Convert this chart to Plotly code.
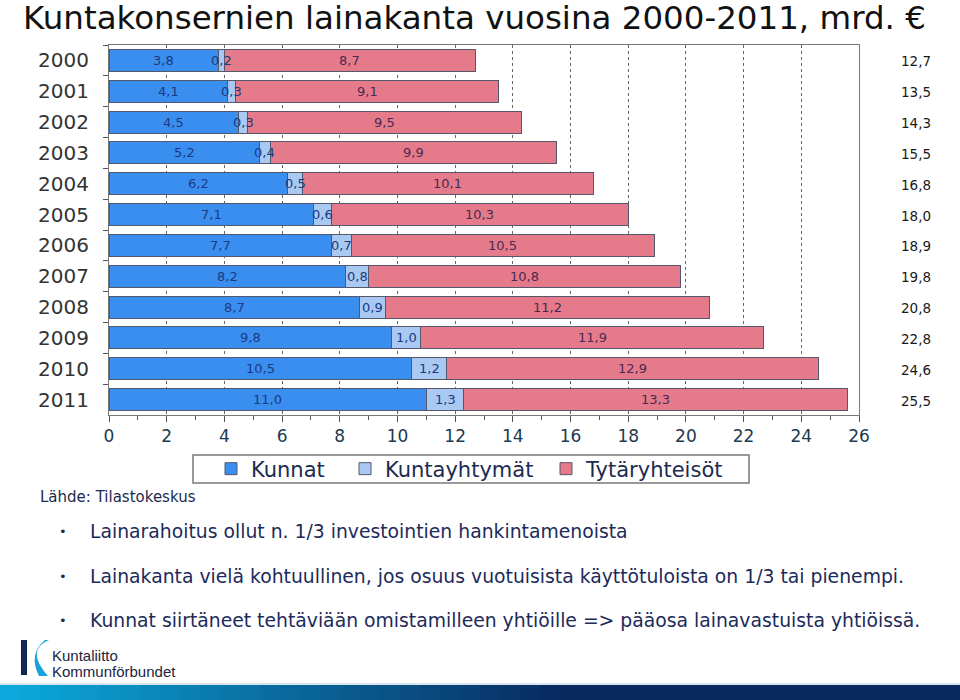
import plotly.graph_objects as go

years = ["2000", "2001", "2002", "2003", "2004", "2005", "2006", "2007", "2008", "2009", "2010", "2011"]
kunnat = [3.8, 4.1, 4.5, 5.2, 6.2, 7.1, 7.7, 8.2, 8.7, 9.8, 10.5, 11.0]
kuntayhtymat = [0.2, 0.3, 0.3, 0.4, 0.5, 0.6, 0.7, 0.8, 0.9, 1.0, 1.2, 1.3]
tytaryhteisot = [8.7, 9.1, 9.5, 9.9, 10.1, 10.3, 10.5, 10.8, 11.2, 11.9, 12.9, 13.3]
totals = [12.7, 13.5, 14.3, 15.5, 16.8, 18.0, 18.9, 19.8, 20.8, 22.8, 24.6, 25.5]
x_ticks = list(range(0, 27, 2))

series_names = ["Kunnat", "Kuntayhtymät", "Tytäryhteisöt"]
series_vals = [kunnat, kuntayhtymat, tytaryhteisot]
colors = ["#3a8ef0", "#a9c9f2", "#e57a8b"]
label_colors = ["#1b3a80", "#1b3a80", "#4a2a50"]

title = "Kuntakonsernien lainakanta vuosina 2000-2011, mrd. €"
source = "Lähde: Tilastokeskus"
bullets = [
    "Lainarahoitus ollut n. 1/3 investointien hankintamenoista",
    "Lainakanta vielä kohtuullinen, jos osuus vuotuisista käyttötuloista on 1/3 tai pienempi.",
    "Kunnat siirtäneet tehtäviään omistamilleen yhtiöille => pääosa lainavastuista yhtiöissä.",
]

# layout geometry (pixels)
W, H = 960, 700
L, R, T, B = 109, 101, 45, 285
PW, PH = W - L - R, H - T - B


def px(x):
    return (x - L) / PW


def py(y):
    return (H - B - y) / PH


legend_ids = ["legend", "legend2", "legend3"]
legend_left = [211, 345, 546]

fig = go.Figure()
for name, vals, c, lg in zip(series_names, series_vals, colors, legend_ids):
    fig.add_trace(go.Bar(
        y=years, x=vals, name=name, orientation="h", legend=lg,
        marker=dict(color=c, line=dict(color="#55586a", width=1)),
        hoverinfo="x+name",
    ))

annotations = []
# segment labels (y given as category index)
base = [0.0] * len(years)
for vals, lc in zip(series_vals, label_colors):
    for i, v in enumerate(vals):
        annotations.append(dict(
            x=base[i] + v / 2, y=i, xref="x", yref="y", xanchor="center",
            text=f"{v:.1f}".replace(".", ","), showarrow=False,
            font=dict(family="DejaVu Sans", size=13, color=lc),
        ))
        base[i] += v

# totals at right
for i, t in enumerate(totals):
    annotations.append(dict(
        x=px(916), y=i, xref="paper", yref="y", xanchor="center",
        text=f"{t:.1f}".replace(".", ","), showarrow=False, yshift=-1,
        font=dict(family="DejaVu Sans", size=13.5, color="#1a1a1a"),
    ))

annotations.append(dict(
    x=px(22), y=py(18.5), xref="paper", yref="paper", xanchor="left", yanchor="middle",
    text=title, showarrow=False, borderpad=0,
    font=dict(family="DejaVu Sans", size=32.5, color="#111111"),
))
annotations.append(dict(
    x=px(38), y=py(497), xref="paper", yref="paper", xanchor="left", yanchor="middle",
    text=source, showarrow=False,
    font=dict(family="DejaVu Sans", size=15, color="#1c2b50"),
))
for b, yy in zip(bullets, [531, 576, 620]):
    annotations.append(dict(
        x=px(57), y=py(yy), xref="paper", yref="paper", xanchor="left", yanchor="middle",
        text="•", showarrow=False,
        font=dict(family="DejaVu Sans", size=13, color="#1c2b5a"),
    ))
    annotations.append(dict(
        x=px(88), y=py(yy), xref="paper", yref="paper", xanchor="left", yanchor="middle",
        text=b, showarrow=False,
        font=dict(family="DejaVu Sans", size=18.8, color="#1c2b5a"),
    ))
# logo text
annotations.append(dict(
    x=px(50), y=py(655), xref="paper", yref="paper", xanchor="left", yanchor="middle",
    text="Kuntaliitto", showarrow=False,
    font=dict(family="Liberation Sans", size=15, color="#1a2540"),
))
annotations.append(dict(
    x=px(50), y=py(671), xref="paper", yref="paper", xanchor="left", yanchor="middle",
    text="Kommunförbundet", showarrow=False,
    font=dict(family="Liberation Sans", size=15, color="#1a2540"),
))

shapes = []
# legend frame
shapes.append(dict(type="rect", xref="paper", yref="paper",
                   x0=px(193), x1=px(749), y0=py(483), y1=py(455),
                   fillcolor="white", line=dict(color="#7a7a7a", width=1.5), layer="below"))
# gradient footer band
n = 48
c0 = (12, 170, 220)
c1 = (8, 42, 95)
for k in range(n):
    f = k / (n - 1)
    f2 = min(1.0, f * 1.7)
    col = tuple(int(c0[j] + (c1[j] - c0[j]) * f2) for j in range(3))
    shapes.append(dict(
        type="rect", xref="paper", yref="paper",
        x0=px(k * W / n), x1=px((k + 1) * W / n + 1), y0=py(700), y1=py(685),
        fillcolor="rgb(%d,%d,%d)" % col, line=dict(width=0), layer="above",
    ))
shapes.append(dict(type="rect", xref="paper", yref="paper",
                   x0=px(0), x1=px(960), y0=py(685), y1=py(683),
                   fillcolor="#d8e4ee", line=dict(width=0)))
# logo K
shapes.append(dict(type="rect", xref="paper", yref="paper",
                   x0=px(21), x1=px(27), y0=py(675), y1=py(640),
                   fillcolor="#0f2a55", line=dict(width=0)))
arc = "M {a},{b} Q {c},{d} {e},{f} L {g},{h} Q {i},{j} {k},{l} Z".format(
    a=px(49), b=py(640), c=px(25), d=py(650), e=px(48), f=py(676),
    g=px(39), h=py(676), i=px(28), j=py(654), k=px(45), l=py(640))
shapes.append(dict(type="path", xref="paper", yref="paper", path=arc,
                   fillcolor="#1aa3d8", line=dict(width=0)))

legend_common = dict(
    orientation="h", yanchor="middle", y=py(469), xanchor="left",
    borderwidth=0, bgcolor="rgba(0,0,0,0)",
    font=dict(family="DejaVu Sans", size=21, color="#1c2b50"),
)
legend_layout = {lg: dict(legend_common, x=px(xl)) for lg, xl in zip(legend_ids, legend_left)}

fig.update_layout(
    width=W, height=H,
    margin=dict(l=L, r=R, t=T, b=B, autoexpand=False),
    paper_bgcolor="white", plot_bgcolor="white",
    barmode="stack", bargap=0.285,
    separators=", ",
    showlegend=True,
    xaxis=dict(
        range=[0, 26], tickvals=x_ticks, ticks="outside", ticklen=6,
        tickcolor="#555555", showline=True, linecolor="#777777", mirror=True,
        showgrid=True, gridcolor="#666666", griddash="dot", gridwidth=1,
        minor=dict(dtick=1, ticks="outside", ticklen=4, tickcolor="#555555", showgrid=False),
        tickfont=dict(family="DejaVu Sans", size=17, color="#1c3a50"),
        zeroline=False, fixedrange=True,
    ),
    yaxis=dict(
        type="category", autorange="reversed", ticks="outside", ticklen=5,
        tickson="boundaries", tickcolor="#555555",
        showline=True, linecolor="#777777", mirror=True,
        tickfont=dict(family="DejaVu Sans", size=20, color="#333333"),
        ticklabelstandoff=15, showgrid=False, fixedrange=True,
    ),
    annotations=annotations,
    shapes=shapes,
    **legend_layout,
)

fig.write_html("out.html", config={"displayModeBar": False},
               post_script="document.body.style.margin='0';")
